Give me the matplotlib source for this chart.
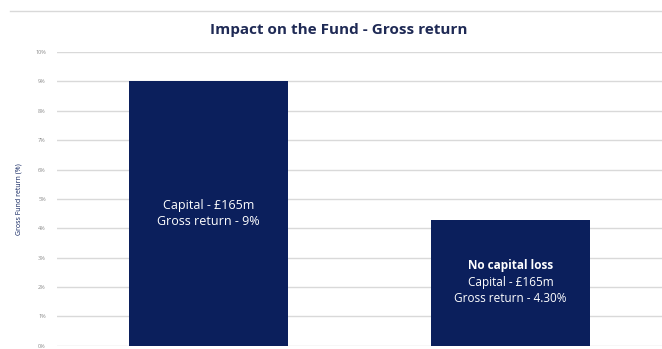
import matplotlib.pyplot as plt
from matplotlib.lines import Line2D

scenarios = ['Capital loss', 'No capital loss']
gross_return = [9.0, 4.3]
capital = ['£165m', '£165m']
return_text = ['9%', '4.30%']
ticks = list(range(0, 11))

navy = '#0b1f5c'
grid = '#d9d9d9'

plt.rcParams['font.family'] = ['Open Sans', 'DejaVu Sans']

fig = plt.figure(figsize=(6.62, 3.49), dpi=100)
ax = fig.add_axes([0.086, 0.009, 0.914, 0.842])

x = list(range(len(scenarios)))
ax.bar(x, gross_return, width=0.525, color=navy, zorder=3)

ax.set_xlim(-0.5, 1.5)
ax.set_ylim(0, 10)
ax.set_yticks(ticks)
ax.set_yticklabels([f'{t}%' for t in ticks], fontsize=4, color='#8a8a8a')
ax.set_xticks([])
ax.tick_params(axis='y', length=0, pad=8)
ax.grid(axis='y', color=grid, linewidth=1, zorder=0)
for s in ax.spines.values():
    s.set_visible(False)
ax.set_ylabel('Gross Fund return (%)', fontsize=5, color=navy, labelpad=9)

# labels inside the bars
ax.text(x[0], 4.5, f'Capital - {capital[0]}\nGross return - {return_text[0]}',
        ha='center', va='center', color='white', fontsize=9, linespacing=1.3, zorder=4)
ax.text(x[1], 2.75, 'No capital loss', ha='center', va='center', color='white',
        fontsize=8.5, fontweight='bold', zorder=4)
ax.text(x[1], 1.87, f'Capital - {capital[1]}\nGross return - {return_text[1]}',
        ha='center', va='center', color='white', fontsize=8.5, linespacing=1.3, zorder=4)

fig.text(0.512, 0.914, 'Impact on the Fund - Gross return', ha='center', va='center',
         fontsize=11, fontweight='bold', color='#1f2a55')

fig.add_artist(Line2D([0.015, 1.0], [0.968, 0.968], transform=fig.transFigure,
                      color=grid, linewidth=1))

fig.savefig('out.png', dpi=100, facecolor='white')
